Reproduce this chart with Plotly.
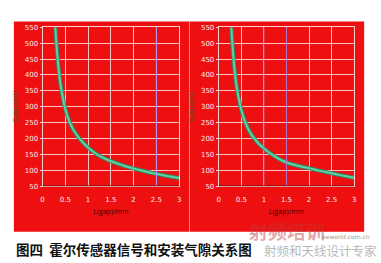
import plotly.graph_objects as go

# ---- data ----
gap_left = [0.28, 0.32, 0.36, 0.40, 0.45, 0.50, 0.60, 0.70, 0.80, 0.90, 1.00,
            1.20, 1.40, 1.60, 1.80, 2.00, 2.20, 2.40, 2.60, 2.80, 3.00]
sig_left = [550, 470, 410, 365, 325, 292, 250, 222, 202, 186, 172,
            150, 135, 124, 114, 106, 99, 92, 86, 81, 76]
gap_right = [0.28, 0.32, 0.36, 0.40, 0.45, 0.50, 0.60, 0.70, 0.80, 0.90, 1.00,
             1.20, 1.40, 1.60, 1.80, 2.00, 2.20, 2.40, 2.60, 2.80, 3.00]
sig_right = [550, 465, 405, 360, 322, 290, 247, 218, 198, 182, 169,
             148, 131, 120, 113, 107, 100, 94, 88, 82, 77]
x_ticks = [0, 0.5, 1, 1.5, 2, 2.5, 3]
x_labels = ["0", "0.5", "1", "1.5", "2", "2.5", "3"]
y_ticks = [50, 100, 150, 200, 250, 300, 350, 400, 450, 500, 550]
y_labels = ["50", "100", "150", "200", "250", "300", "350", "400", "450", "500", "550"]
caption = "图四  霍尔传感器信号和安装气隙关系图"
x_title = "L(gap)/mm"
y_title = "Output/mV"

W, H = 381, 263
RED = "#ee1010"

fig = go.Figure()
for gx, gy, xa_id, ya_id in [(gap_left, sig_left, "x", "y"), (gap_right, sig_right, "x2", "y2")]:
    fig.add_trace(go.Scatter(x=gx, y=gy, mode="lines", xaxis=xa_id, yaxis=ya_id,
                             line=dict(color="#2e8a6a", width=4, shape="spline"), showlegend=False))
    fig.add_trace(go.Scatter(x=gx, y=gy, mode="lines", xaxis=xa_id, yaxis=ya_id,
                             line=dict(color="#5fd0a0", width=2, shape="spline"), showlegend=False))

ydom = [1 - 188 / H, 1 - 24 / H]
axis_common = dict(showgrid=True, gridcolor="#f8c4c4", gridwidth=1, zeroline=False,
                   showline=True, linecolor="#f4d0d0", linewidth=1, mirror=True,
                   tickfont=dict(family="DejaVu Sans", size=7, color="#ffeaea"),
                   ticks="outside", ticklen=2, tickcolor="#ffe0e0")
xa = dict(axis_common, range=[0, 3], tickvals=x_ticks, ticktext=x_labels, ticklen=6,
          tickcolor=RED,
          title=dict(text=x_title, font=dict(size=7, color="#400000"), standoff=6))
ya = dict(axis_common, range=[50, 550], tickvals=y_ticks, ticktext=y_labels,
          title=dict(text=y_title, font=dict(size=6, color="#2a6a3a"), standoff=6))

fig.update_layout(
    width=W, height=H, margin=dict(l=0, r=0, t=0, b=0),
    paper_bgcolor="white", plot_bgcolor=RED,
    xaxis=dict(xa, domain=[41 / W, 179 / W], anchor="y"),
    yaxis=dict(ya, domain=ydom, anchor="x"),
    xaxis2=dict(xa, domain=[219 / W, 356 / W], anchor="y2"),
    yaxis2=dict(ya, domain=ydom, anchor="x2"),
    shapes=[
        dict(type="rect", xref="paper", yref="paper", x0=12 / W, x1=189 / W,
             y0=1 - 235 / H, y1=1 - 18 / H, fillcolor=RED, line=dict(width=0), layer="below"),
        dict(type="rect", xref="paper", yref="paper", x0=190 / W, x1=366 / W,
             y0=1 - 235 / H, y1=1 - 18 / H, fillcolor=RED, line=dict(width=0), layer="below"),
        dict(type="line", xref="paper", yref="paper", x0=189.5 / W, x1=189.5 / W,
             y0=1 - 235 / H, y1=1 - 18 / H, line=dict(color="#b0a0a0", width=1)),
        dict(type="line", xref="x", yref="y", x0=2.5, x1=2.5, y0=50, y1=550,
             line=dict(color="#a090ff", width=1)),
        dict(type="line", xref="x2", yref="y2", x0=1.0, x1=1.0, y0=50, y1=550,
             line=dict(color="#b070c0", width=1)),
        dict(type="line", xref="x2", yref="y2", x0=1.5, x1=1.5, y0=50, y1=550,
             line=dict(color="#b070c0", width=1)),
        dict(type="line", xref="x", yref="y", x0=0, x1=3, y0=50, y1=50,
             line=dict(color="#700000", width=1.5)),
        dict(type="line", xref="x2", yref="y2", x0=0, x1=3, y0=50, y1=50,
             line=dict(color="#700000", width=1.5)),
    ],
    annotations=[
        dict(text="<b>" + caption + "</b>", xref="paper", yref="paper", x=12 / W, y=1 - 253 / H,
             xanchor="left", yanchor="middle", showarrow=False,
             font=dict(family="Noto Sans CJK SC", size=13.5, color="#111111")),
        dict(text="<b>射频培训</b>", xref="paper", yref="paper", x=288 / W, y=1 - 234 / H,
             xanchor="center", yanchor="middle", showarrow=False,
             font=dict(family="Noto Sans CJK SC", size=19, color="rgba(190,60,60,0.45)")),
        dict(text="射频和天线设计专家", xref="paper", yref="paper", x=381 / W, y=1 - 254 / H,
             xanchor="right", yanchor="middle", showarrow=False,
             font=dict(family="Noto Sans CJK SC", size=12.5, color="rgba(150,150,150,0.7)")),
        dict(text="eeworld.com.cn", xref="paper", yref="paper", x=374 / W, y=1 - 240 / H,
             xanchor="right", yanchor="middle", showarrow=False,
             font=dict(family="DejaVu Sans", size=6, color="rgba(120,120,120,0.8)")),
    ],
)

fig.write_html("out.html")
